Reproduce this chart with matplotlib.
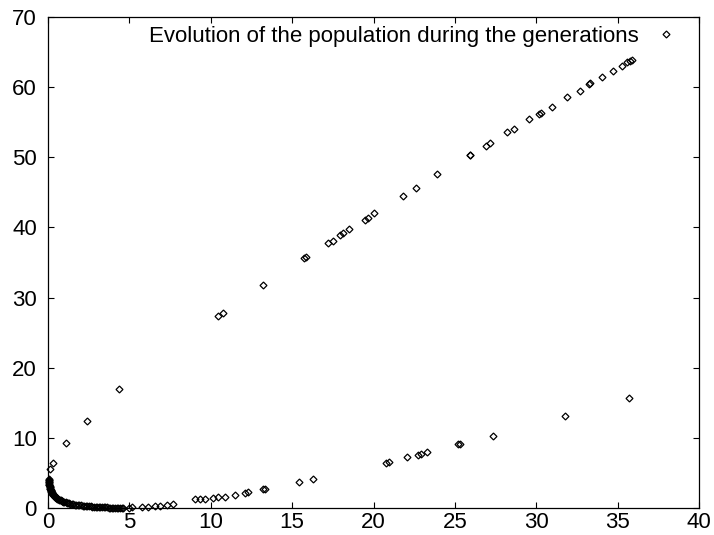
import matplotlib
matplotlib.use("Agg")
import matplotlib.pyplot as plt
import numpy as np

# Upper branch
upper_x = [0.12, 0.29, 1.10, 2.38, 4.36, 10.43, 10.73, 13.23, 15.72, 15.85, 17.22, 17.49,
           17.94, 18.14, 18.51, 19.48, 19.68, 20.05, 21.79, 22.61, 23.92, 25.90, 25.96,
           26.89, 27.16, 28.22, 28.65, 29.55, 30.19, 30.27, 30.99, 31.91, 32.69, 33.22,
           33.30, 34.02, 34.70, 35.25, 35.60, 35.76, 35.86]
upper_y = [5.56, 6.46, 9.30, 12.45, 16.97, 27.37, 27.84, 31.79, 35.60, 35.78, 37.82, 38.11,
           38.92, 39.16, 39.73, 41.06, 41.39, 42.02, 44.48, 45.67, 47.58, 50.28, 50.38,
           51.65, 52.00, 53.54, 53.99, 55.42, 56.13, 56.27, 57.21, 58.55, 59.50, 60.40,
           60.55, 61.40, 62.35, 63.06, 63.55, 63.77, 63.90]

# Lower branch
lower_x = [5.00, 5.14, 5.76, 6.16, 6.57, 6.88, 7.29, 7.70, 9.03, 9.34, 9.65, 10.16, 10.46,
           10.88, 11.49, 12.10, 12.31, 13.23, 13.33, 15.44, 16.30, 20.77, 20.97, 22.08,
           22.72, 22.92, 23.27, 25.22, 25.30, 27.32, 31.77, 35.72]
lower_y = [0.05, 0.10, 0.10, 0.19, 0.29, 0.29, 0.43, 0.53, 1.24, 1.28, 1.28, 1.47, 1.53,
           1.61, 1.85, 2.10, 2.24, 2.67, 2.67, 3.66, 4.09, 6.46, 6.60, 7.23, 7.60, 7.70,
           7.94, 9.08, 9.15, 10.31, 13.12, 15.73]

# Dense decaying curve near the origin
decay_x = [0.04, 0.05, 0.05, 0.06, 0.06, 0.07, 0.07, 0.08, 0.08, 0.09, 0.10, 0.11, 0.12,
           0.13, 0.14, 0.15, 0.16, 0.17, 0.18, 0.20, 0.21, 0.23, 0.25, 0.27, 0.29, 0.31,
           0.34, 0.37, 0.40, 0.43, 0.46, 0.50, 0.54, 0.58, 0.62, 0.67, 0.72, 0.77, 0.83,
           0.89, 0.95, 1.01, 1.08, 1.15, 1.22, 1.30, 1.38, 1.46, 1.55, 1.64, 1.73, 1.82,
           1.92, 2.02, 2.12, 2.22, 2.32, 2.42, 2.52, 2.62, 2.72, 2.82, 2.92, 3.02, 3.12,
           3.22, 3.32, 3.42, 3.52, 3.62, 3.72, 3.82, 3.92, 4.02, 4.12, 4.22, 4.32, 4.42,
           4.52, 4.62]
decay_y = [4.15, 4.05, 3.95, 3.85, 3.75, 3.65, 3.55, 3.45, 3.35, 3.25, 3.15, 3.05, 2.95,
           2.86, 2.78, 2.70, 2.62, 2.55, 2.48, 2.38, 2.31, 2.22, 2.13, 2.05, 1.97, 1.90,
           1.81, 1.73, 1.66, 1.59, 1.52, 1.45, 1.38, 1.32, 1.26, 1.19, 1.13, 1.07, 1.01,
           0.95, 0.90, 0.85, 0.80, 0.75, 0.70, 0.65, 0.61, 0.57, 0.53, 0.49, 0.45, 0.42,
           0.39, 0.36, 0.33, 0.30, 0.28, 0.26, 0.24, 0.22, 0.20, 0.18, 0.16, 0.15, 0.13,
           0.12, 0.11, 0.10, 0.09, 0.08, 0.07, 0.06, 0.05, 0.05, 0.04, 0.03, 0.03, 0.02,
           0.02, 0.01]

series_label = "Evolution of the population during the generations"
x_ticks = [0, 5, 10, 15, 20, 25, 30, 35, 40]
y_ticks = [0, 10, 20, 30, 40, 50, 60, 70]

plt.rcParams['font.family'] = ['Liberation Sans', 'DejaVu Sans']

fig = plt.figure(figsize=(7.14, 5.35), dpi=100)
ax = fig.add_axes([48/714, 27/535, (699-48)/714, (508-17)/535])

all_x = np.concatenate([decay_x, lower_x, upper_x])
all_y = np.concatenate([decay_y, lower_y, upper_y])
ax.plot(all_x, all_y, linestyle='none', marker='D', ms=3.5, mfc='none',
        mec='black', mew=0.9, clip_on=False, label=series_label)

ax.set_xlim(0, 40)
ax.set_ylim(0, 70)
ax.set_xticks(x_ticks)
ax.set_yticks(y_ticks)
ax.tick_params(direction='in', length=4.5, width=0.8, top=True, right=True,
               labelsize=16, colors='black')
ax.tick_params(axis='x', pad=3)
ax.tick_params(axis='y', pad=8)
for s in ax.spines.values():
    s.set_linewidth(0.9)
    s.set_color('black')

ax.legend(loc='upper right', frameon=False, markerfirst=False, fontsize=16,
          handlelength=2.2, handletextpad=0.1, borderpad=0.4, borderaxespad=0,
          numpoints=1)

fig.savefig("out.png", dpi=100)
